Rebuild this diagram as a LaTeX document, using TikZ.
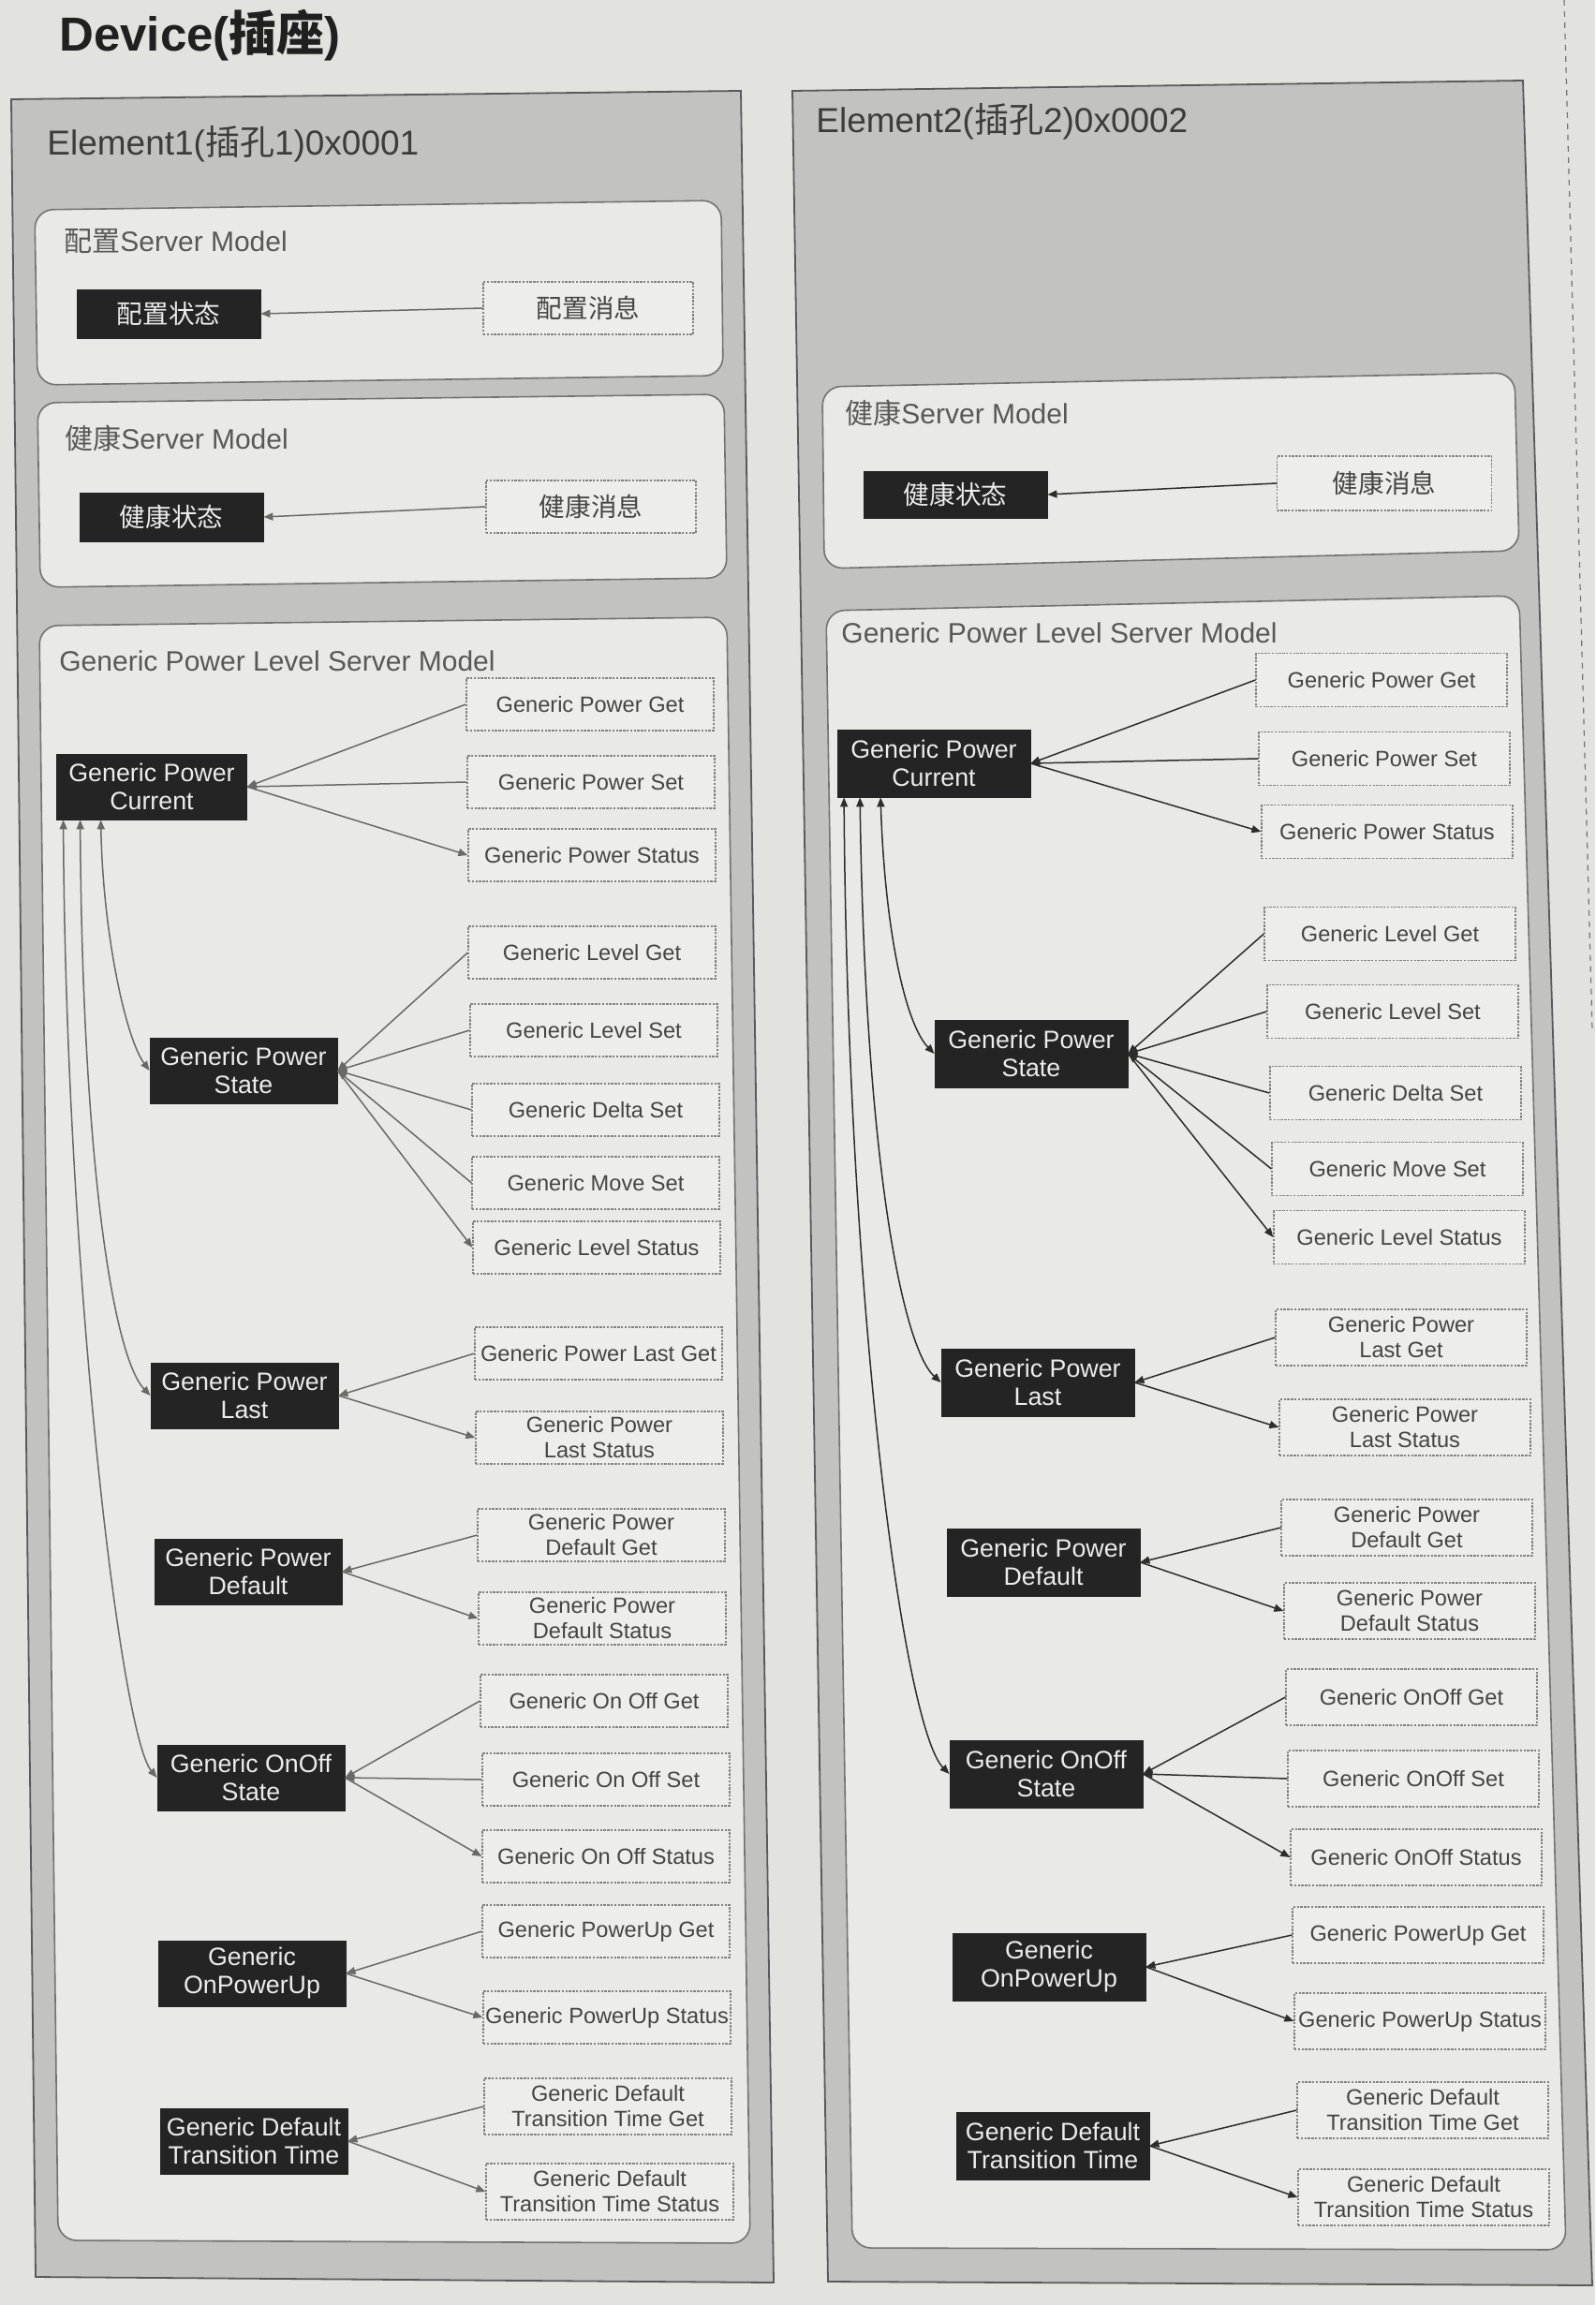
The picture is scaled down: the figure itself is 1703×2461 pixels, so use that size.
\documentclass[tikz,border=0pt]{standalone}
\usepackage{fontspec}
\setmainfont{Liberation Sans}
\newfontfamily\cjk{Noto Sans CJK SC}
\usetikzlibrary{arrows.meta}
\definecolor{pagebg}{RGB}{226,226,223}
\definecolor{panelfill}{RGB}{194,194,192}
\definecolor{paneledge}{RGB}{90,90,90}
\definecolor{boxfill}{RGB}{233,233,231}
\definecolor{boxedge}{RGB}{115,115,115}
\definecolor{darkfill}{RGB}{36,36,36}
\definecolor{msgfill}{RGB}{237,237,235}
\definecolor{msgedge}{RGB}{130,130,130}
\definecolor{msgtext}{RGB}{68,68,68}
\definecolor{labeltext}{RGB}{88,88,88}
\definecolor{titletext}{RGB}{60,60,60}
\definecolor{linegray}{RGB}{105,105,105}
\definecolor{linedark}{RGB}{45,45,45}
\tikzset{
  x=0.5pt, y=-0.5pt,
  >={Triangle[length=5pt,width=4pt]},
  panel/.style={fill=panelfill, draw=paneledge, line width=0.9pt},
  innerbox/.style={fill=boxfill, draw=boxedge, line width=0.8pt, rounded corners=10pt},
  darknode/.style={fill=darkfill, draw=darkfill, text={rgb,255:red,236;green,236;blue,236}, inner sep=0pt, align=center,
    font=\fontsize{13.4}{15}\selectfont, minimum width=100pt, minimum height=35pt},
  darkR/.style={darknode, minimum width=103pt, minimum height=36pt},
  topdark/.style={darknode, font=\fontsize{13.8}{16}\selectfont, minimum width=98pt, minimum height=26pt},
  msgnode/.style={fill=msgfill, draw=msgedge, dash pattern=on 1.2pt off 0.7pt, line width=0.6pt, text=msgtext,
    inner sep=0pt, align=center, font=\fontsize{11.8}{13.5}\selectfont, minimum width=132pt, minimum height=28pt},
  msgR/.style={msgnode, minimum width=134pt, minimum height=28.5pt},
  twoline/.style={minimum height=30pt},
  topmsg/.style={msgnode, font=\fontsize{13.8}{16}\selectfont, minimum width=112pt, minimum height=28pt},
  lbl/.style={anchor=west, text=labeltext, inner sep=0pt, font=\fontsize{15}{18}\selectfont},
  eltitle/.style={anchor=west, text=titletext, inner sep=0pt, font=\fontsize{18.5}{22}\selectfont},
  linkL/.style={draw=linegray, line width=0.75pt},
  linkR/.style={draw=linedark, line width=0.75pt},
}
\begin{document}
\begin{tikzpicture}
\useasboundingbox (0,0) rectangle (1703,2461);
\fill[pagebg] (0,0) rectangle (1703,2461);

% title
\node[anchor=west, inner sep=0pt, text={rgb,255:red,32;green,32;blue,32}, font=\fontsize{25.5}{30}\selectfont\bfseries] (title) at (63,38) {Device({\cjk 插座})};
\draw[dashed, line width=0.6pt, black!55] (1670,0) -- (1700,1100);

% ===== left element =====
\draw[panel] (12,106) -- (791,97) -- (826,2437) -- (38,2431) -- cycle;
\node[eltitle] (e1) at (50,154) {Element1({\cjk 插孔}1)0x0001};

\draw[innerbox] (37,224) -- (770,214) -- (772,401) -- (40,411) -- cycle;
\node[lbl] (b1lbl) at (68,258) {{\cjk 配置}Server Model};
\node[topdark] (L1state) at (180,335) {\cjk 配置状态};
\node[topmsg] (L1msg) at (628,329) {\cjk 配置消息};
\draw[linkL,->] (L1msg.west) -- (L1state.east);

\draw[innerbox] (40,430) -- (773,421) -- (776,617) -- (43,627) -- cycle;
\node[lbl] (b2lbl) at (69,468) {{\cjk 健康}Server Model};
\node[topdark] (L2state) at (183,552) {\cjk 健康状态};
\node[topmsg] (L2msg) at (631,541) {\cjk 健康消息};
\draw[linkL,->] (L2msg.west) -- (L2state.east);

\draw[innerbox] (42,668) -- (776,659) -- (801,2395) -- (62,2392) -- cycle;
\node[lbl] (b3lbl) at (63,706) {Generic Power Level Server Model};

\node[darknode, minimum width=101.5pt] (LCur) at (162,840) {Generic Power\\Current};
\node[darknode] (LSta) at (260,1143) {Generic Power\\State};
\node[darknode] (LLast) at (261,1490) {Generic Power\\Last};
\node[darknode] (LDef) at (265,1678) {Generic Power\\Default};
\node[darknode] (LOnOff) at (268,1898) {Generic OnOff\\State};
\node[darknode] (LPU) at (269,2107) {Generic\\OnPowerUp};
\node[darknode] (LDTT) at (271,2286) {Generic Default\\Transition Time};

\node[msgnode] (LPGet) at (630,752) {Generic Power Get};
\node[msgnode] (LPSet) at (631,835) {Generic Power Set};
\node[msgnode] (LPStatus) at (632,913) {Generic Power Status};
\node[msgnode] (LLGet) at (632,1017) {Generic Level Get};
\node[msgnode] (LLSet) at (634,1100) {Generic Level Set};
\node[msgnode] (LDSet) at (636,1185) {Generic Delta Set};
\node[msgnode] (LMSet) at (636,1263) {Generic Move Set};
\node[msgnode] (LLStatus) at (637,1332) {Generic Level Status};
\node[msgnode] (LPLGet) at (639,1445) {Generic Power Last Get};
\node[msgnode] (LPLStatus) at (640,1535) {Generic Power\\Last Status};
\node[msgnode] (LPDGet) at (642,1639) {Generic Power\\Default Get};
\node[msgnode] (LPDStatus) at (643,1728) {Generic Power\\Default Status};
\node[msgnode] (LOGet) at (645,1816) {Generic On Off Get};
\node[msgnode] (LOSet) at (647,1900) {Generic On Off Set};
\node[msgnode] (LOStatus) at (647,1982) {Generic On Off Status};
\node[msgnode] (LUGet) at (647,2062) {Generic PowerUp Get};
\node[msgnode] (LUStatus) at (648,2154) {Generic PowerUp Status};
\node[msgnode, twoline] (LTGet) at (649,2249) {Generic Default\\Transition Time Get};
\node[msgnode, twoline] (LTStatus) at (651,2340) {Generic Default\\Transition Time Status};

\foreach \m in {LPGet,LPSet} \draw[linkL,->] (\m.west) -- (LCur.east);
\draw[linkL,->] (LCur.east) -- (LPStatus.west);
\foreach \m in {LLGet,LLSet,LDSet,LMSet} \draw[linkL,->] (\m.west) -- (LSta.east);
\draw[linkL,->] (LSta.east) -- (LLStatus.west);
\draw[linkL,->] (LPLGet.west) -- (LLast.east);
\draw[linkL,->] (LLast.east) -- (LPLStatus.west);
\draw[linkL,->] (LPDGet.west) -- (LDef.east);
\draw[linkL,->] (LDef.east) -- (LPDStatus.west);
\foreach \m in {LOGet,LOSet} \draw[linkL,->] (\m.west) -- (LOnOff.east);
\draw[linkL,->] (LOnOff.east) -- (LOStatus.west);
\draw[linkL,->] (LUGet.west) -- (LPU.east);
\draw[linkL,->] (LPU.east) -- (LUStatus.west);
\draw[linkL,->] (LTGet.west) -- (LDTT.east);
\draw[linkL,->] (LDTT.east) -- (LTStatus.west);

\draw[linkL,<->] ([xshift=23.75pt]LCur.south west) .. controls (110,1000) and (135,1110) .. (LSta.west);
\draw[linkL,<->] ([xshift=12.75pt]LCur.south west) .. controls (88,1250) and (122,1450) .. (LLast.west);
\draw[linkL,<->] ([xshift=3.75pt]LCur.south west) .. controls (70,1350) and (128,1850) .. (LOnOff.west);

% ===== right element =====
\draw[panel] (846,97) -- (1626,86) -- (1700,2440) -- (884,2436) -- cycle;
\node[eltitle] (e2) at (871,130) {Element2({\cjk 插孔}2)0x0002};

\draw[innerbox] (878,413) -- (1617,398) -- (1622,588) -- (880,607) -- cycle;
\node[lbl] (r2lbl) at (902,441) {{\cjk 健康}Server Model};
\node[topdark, minimum height=25pt] (R1state) at (1020,528) {\cjk 健康状态};
\node[topmsg, minimum width=114.5pt, minimum height=29pt] (R1msg) at (1478,516) {\cjk 健康消息};
\draw[linkR,->] (R1msg.west) -- (R1state.east);

\draw[innerbox] (882,652) -- (1622,636) -- (1672,2402) -- (910,2400) -- cycle;
\node[lbl] (r3lbl) at (898,676) {Generic Power Level Server Model};

\node[darkR] (RCur) at (997,815) {Generic Power\\Current};
\node[darkR] (RSta) at (1101,1125) {Generic Power\\State};
\node[darkR] (RLast) at (1108,1476) {Generic Power\\Last};
\node[darkR] (RDef) at (1114,1668) {Generic Power\\Default};
\node[darkR] (ROnOff) at (1117,1894) {Generic OnOff\\State};
\node[darkR] (RPU) at (1120,2100) {Generic\\OnPowerUp};
\node[darkR] (RDTT) at (1124,2291) {Generic Default\\Transition Time};

\node[msgR] (RPGet) at (1475,726) {Generic Power Get};
\node[msgR] (RPSet) at (1478,810) {Generic Power Set};
\node[msgR] (RPStatus) at (1481,888) {Generic Power Status};
\node[msgR] (RLGet) at (1484,997) {Generic Level Get};
\node[msgR] (RLSet) at (1487,1080) {Generic Level Set};
\node[msgR] (RDSet) at (1490,1167) {Generic Delta Set};
\node[msgR] (RMSet) at (1492,1248) {Generic Move Set};
\node[msgR] (RLStatus) at (1494,1321) {Generic Level Status};
\node[msgR, twoline] (RPLGet) at (1496,1428) {Generic Power\\Last Get};
\node[msgR, twoline] (RPLStatus) at (1500,1524) {Generic Power\\Last Status};
\node[msgR, twoline] (RPDGet) at (1502,1631) {Generic Power\\Default Get};
\node[msgR, twoline] (RPDStatus) at (1505,1720) {Generic Power\\Default Status};
\node[msgR, twoline] (ROGet) at (1507,1812) {Generic OnOff Get};
\node[msgR, twoline] (ROSet) at (1509,1899) {Generic OnOff Set};
\node[msgR, twoline] (ROStatus) at (1512,1983) {Generic OnOff Status};
\node[msgR, twoline] (RUGet) at (1514,2066) {Generic PowerUp Get};
\node[msgR, twoline] (RUStatus) at (1516,2158) {Generic PowerUp Status};
\node[msgR, twoline] (RTGet) at (1519,2253) {Generic Default\\Transition Time Get};
\node[msgR, twoline] (RTStatus) at (1520,2346) {Generic Default\\Transition Time Status};

\foreach \m in {RPGet,RPSet} \draw[linkR,->] (\m.west) -- (RCur.east);
\draw[linkR,->] (RCur.east) -- (RPStatus.west);
\foreach \m in {RLGet,RLSet,RDSet,RMSet} \draw[linkR,->] (\m.west) -- (RSta.east);
\draw[linkR,->] (RSta.east) -- (RLStatus.west);
\draw[linkR,->] (RPLGet.west) -- (RLast.east);
\draw[linkR,->] (RLast.east) -- (RPLStatus.west);
\draw[linkR,->] (RPDGet.west) -- (RDef.east);
\draw[linkR,->] (RDef.east) -- (RPDStatus.west);
\foreach \m in {ROGet,ROSet} \draw[linkR,->] (\m.west) -- (ROnOff.east);
\draw[linkR,->] (ROnOff.east) -- (ROStatus.west);
\draw[linkR,->] (RUGet.west) -- (RPU.east);
\draw[linkR,->] (RPU.east) -- (RUStatus.west);
\draw[linkR,->] (RTGet.west) -- (RDTT.east);
\draw[linkR,->] (RDTT.east) -- (RTStatus.west);

\draw[linkR,<->] ([xshift=23.25pt]RCur.south west) .. controls (945,1000) and (968,1095) .. (RSta.west);
\draw[linkR,<->] ([xshift=12.25pt]RCur.south west) .. controls (924,1250) and (965,1440) .. (RLast.west);
\draw[linkR,<->] ([xshift=3.75pt]RCur.south west) .. controls (905,1400) and (965,1845) .. (ROnOff.west);
\end{tikzpicture}
\end{document}
